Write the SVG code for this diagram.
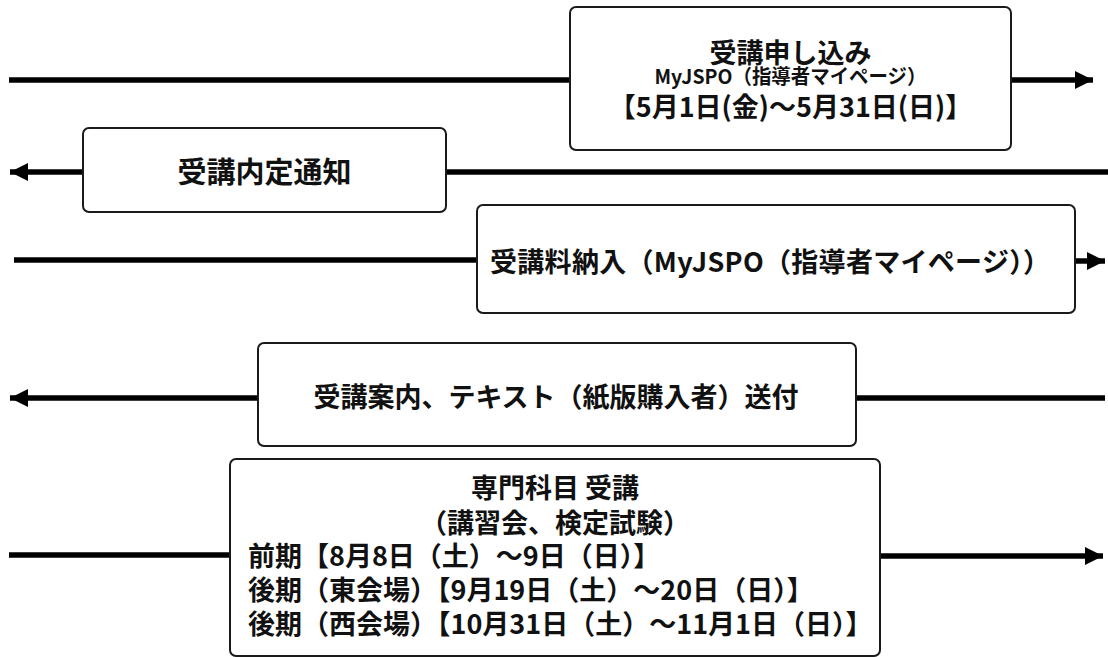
<svg xmlns="http://www.w3.org/2000/svg" width="1108" height="657" viewBox="0 0 1108 657">
<style>
.box{fill:#fff;stroke:#1a1a1a;stroke-width:2}
.ln{stroke:#000;stroke-width:5.5;fill:none}
text{font-family:"Noto Sans CJK JP","Noto Sans",sans-serif;font-weight:bold;fill:#111}
.c{text-anchor:middle}
.t{font-size:27px}
.u{font-size:29px}
.s{font-size:20px}
</style>
<defs>
<marker id="ah" markerUnits="userSpaceOnUse" markerWidth="20" markerHeight="20" viewBox="0 0 20 20" refX="18" refY="10" orient="auto">
<path d="M0,1 L18,10 L0,19 Z" fill="#000"/>
</marker>
</defs>
<rect width="1108" height="657" fill="#fff"/>
<g id="connectors">
<line class="ln" x1="9" y1="80" x2="571" y2="80"/>
<line class="ln" x1="1011" y1="80" x2="1093" y2="80" marker-end="url(#ah)"/>
<line class="ln" x1="1108" y1="172" x2="446" y2="172"/>
<line class="ln" x1="83" y1="172" x2="10" y2="172" marker-end="url(#ah)"/>
<line class="ln" x1="14" y1="260" x2="477" y2="260"/>
<line class="ln" x1="1075" y1="261" x2="1105" y2="261" marker-end="url(#ah)"/>
<line class="ln" x1="258" y1="398" x2="10" y2="398" marker-end="url(#ah)"/>
<line class="ln" x1="856" y1="398" x2="1105" y2="398"/>
<line class="ln" x1="9" y1="555" x2="230" y2="555"/>
<line class="ln" x1="880" y1="556" x2="1103" y2="556" marker-end="url(#ah)"/>
</g>
<g id="n1">
<rect class="box" x="570" y="7" width="441" height="143" rx="6"/>
<text class="c t" x="790.5" y="63">受講申し込み</text>
<text class="c s" x="790.5" y="84" textLength="272" lengthAdjust="spacingAndGlyphs">MyJSPO（指導者マイページ）</text>
<text class="c t" x="790.5" y="117">【5月1日(金)～5月31日(日)】</text>
</g>
<g id="n2">
<rect class="box" x="83" y="128" width="363" height="84" rx="6"/>
<text class="c u" x="264.5" y="183">受講内定通知</text>
</g>
<g id="n3">
<rect class="box" x="477" y="205" width="598" height="108" rx="6"/>
<text class="c t" x="770" y="272" textLength="560" lengthAdjust="spacing">受講料納入（MyJSPO（指導者マイページ））</text>
</g>
<g id="n4">
<rect class="box" x="258" y="343" width="598" height="103" rx="6"/>
<text class="c t" x="556" y="407">受講案内、テキスト（紙版購入者）送付</text>
</g>
<g id="n5">
<rect class="box" x="230" y="459" width="650" height="197" rx="6"/>
<text class="c t" x="555" y="498">専門科目 受講</text>
<text class="c t" x="555" y="533">（講習会、検定試験）</text>
<text class="t" x="248" y="566">前期【8月8日（土）～9日（日）】</text>
<text class="t" x="248" y="600">後期（東会場）【9月19日（土）～20日（日）】</text>
<text class="t" x="248" y="634">後期（西会場）【10月31日（土）～11月1日（日）】</text>
</g>
</svg>
